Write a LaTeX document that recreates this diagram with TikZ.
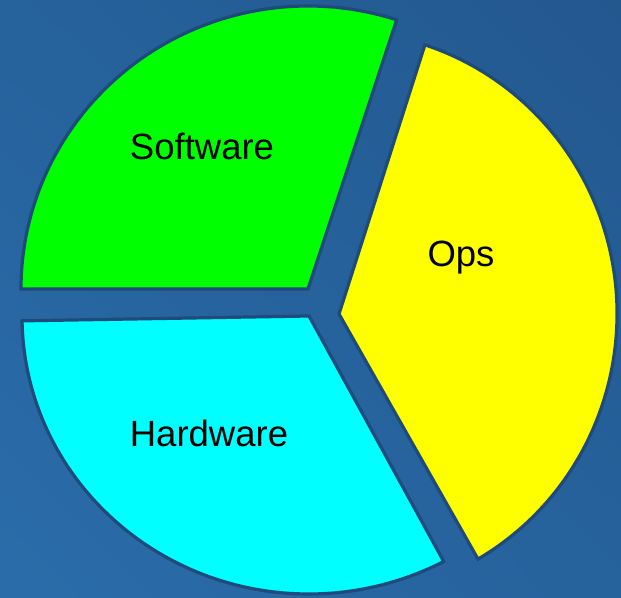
\documentclass[tikz,border=0pt]{standalone}
\usepackage{fontspec}
\setmainfont{Liberation Sans}
\usetikzlibrary{positioning, shadings}
\definecolor{bgdark}{RGB}{35,88,143}
\definecolor{bgmid}{RGB}{38,98,156}
\definecolor{bglight}{RGB}{42,108,170}
\definecolor{rimblue}{RGB}{30,74,124}
\definecolor{swgreen}{RGB}{0,255,0}
\definecolor{hwcyan}{RGB}{0,255,255}
\definecolor{opsyellow}{RGB}{255,255,0}

\begin{document}
\begin{tikzpicture}[
    x=1pt, y=1pt,
    slice/.style={draw=rimblue, line width=3.2pt},
    slicetext/.style={font=\fontsize{36.5}{44}\selectfont, text=black}
]
    % background
    \shade[upper left=bgmid, upper right=bgdark, lower left=bglight, lower right=bgmid] (0,0) rectangle (621,597);
    \useasboundingbox (0,0) rectangle (621,597);

    % exploded slices
    \filldraw[slice, fill=swgreen] (308,308) -- ++({287*cos(72)},{283*sin(72)})
        arc[start angle=72, end angle=180, x radius=287, y radius=283] -- cycle;
    \filldraw[slice, fill=hwcyan] (309,281) -- ++({287*cos(181)},{278*sin(181)})
        arc[start angle=181, end angle=298, x radius=287, y radius=278] -- cycle;
    \filldraw[slice, fill=opsyellow] (339,283) -- ++({278*cos(-60)},{283*sin(-60)})
        arc[start angle=-60, end angle=72, x radius=278, y radius=283] -- cycle;

    \node[slicetext] (software) at (202,451) {Software};
    \node[slicetext] (hardware) at (209,164) {Hardware};
    \node[slicetext] (ops)      at (461,339) {Ops};
\end{tikzpicture}
\end{document}
